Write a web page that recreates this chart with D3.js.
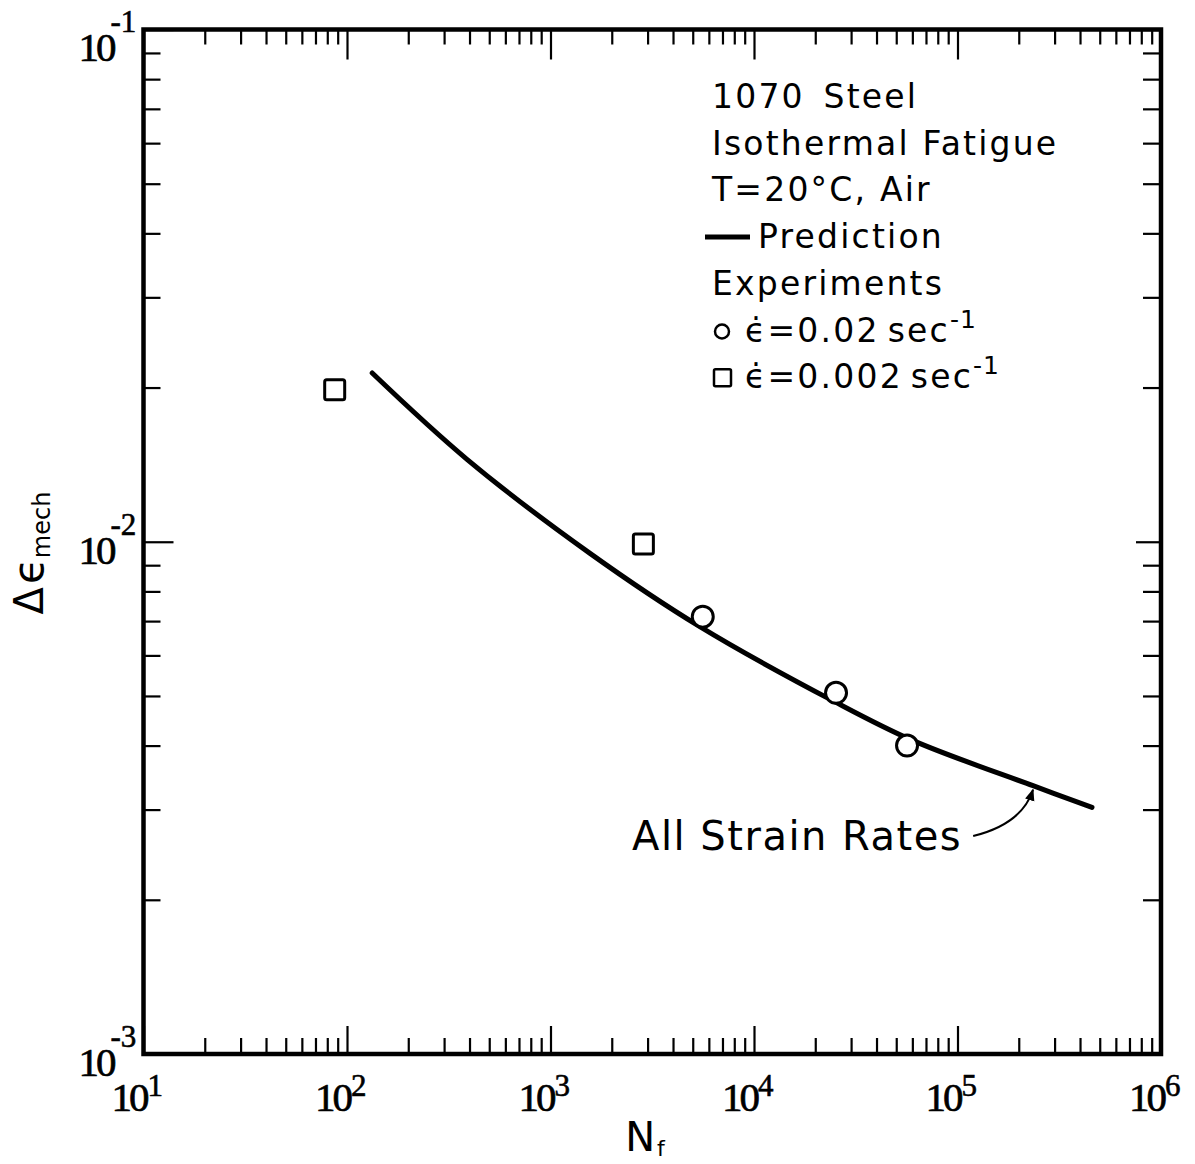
<!DOCTYPE html>
<head>
<meta charset="utf-8">
<script src="https://d3js.org/d3.v7.min.js"></script>
<style>
body{ margin:0; background:#fff; }
text{ font-family: "DejaVu Sans", sans-serif; fill:#000; }
text.tickLabel{ font-family: "Liberation Serif", serif; font-size:41px; letter-spacing:-3px; stroke:#000; stroke-width:0.7; }
text.tickSup{ font-family: "Liberation Serif", serif; font-size:31px; stroke:#000; stroke-width:0.6; }
text.legend{ font-size:33px; letter-spacing:2.2px; }
text.note{ font-size:40px; letter-spacing:1.5px; }
.axis path.domain{ display:none; }
.axis .tick line{ stroke:#000; stroke-width:2.2; }
</style>
<title>1070 Steel Isothermal Fatigue</title>
</head>
<body>
<script>
const width = 1195, height = 1164;
const margin = {top: 29.5, right: 34, bottom: 110, left: 143.5};

// axis decades
const xExponents = [1, 2, 3, 4, 5, 6];
const yExponents = [-3, -2, -1];

// prediction curve, all strain rates
const predN      = [133, 390, 1570, 5445, 24490, 60530, 235000, 458000];
const predStrain = [0.02135, 0.01447, 0.00948, 0.00682, 0.00489, 0.00409, 0.00334, 0.00303];

// experiments
const fastN      = [5600, 25300, 56500];     // 0.02 /sec
const fastStrain = [0.00714, 0.00507, 0.00400];
const slowN      = [87, 2860];               // 0.002 /sec
const slowStrain = [0.0198, 0.0099];

// annotation "All Strain Rates": text end, arrow start, control, tip
const noteN      = [105400, 119400, 207500, 235000];
const noteStrain = [0.00250, 0.002664, 0.002812, 0.00328];

const svg = d3.select('body').append('svg')
   .attr('width', width)
   .attr('height', height);

const x = d3.scaleLog()
   .domain([1e1, 1e6])
   .range([margin.left, width - margin.right]);

const y = d3.scaleLog()
   .domain([1e-3, 1e-1])
   .range([height - margin.bottom, margin.top]);

const isMajor = v => Math.abs(Math.log10(v) - Math.round(Math.log10(v))) < 1e-9;
const xMinor = x.ticks().filter(v => !isMajor(v));
const xMajor = x.ticks().filter(isMajor);
const yMinor = y.ticks().filter(v => !isMajor(v));
const yMajor = y.ticks().filter(isMajor);

function addTicks(axisFn, scale, values, size, tx, ty){
   svg.append('g')
      .attr('class', 'axis')
      .attr('transform', `translate(${tx},${ty})`)
      .call(axisFn(scale).tickValues(values).tickSize(size).tickSizeOuter(0).tickFormat(''));
}

const x0 = x.range()[0], x1 = x.range()[1];
const yB = y.range()[0], yT = y.range()[1];

addTicks(d3.axisBottom, x, xMinor, -16, 0, yB);
addTicks(d3.axisBottom, x, xMajor, -28, 0, yB);
addTicks(d3.axisTop,    x, xMinor, -15, 0, yT);
addTicks(d3.axisTop,    x, xMajor, -30, 0, yT);
addTicks(d3.axisLeft,   y, yMinor, -17, x0, 0);
addTicks(d3.axisLeft,   y, yMajor, -30, x0, 0);
addTicks(d3.axisRight,  y, yMinor, -18, x1, 0);
addTicks(d3.axisRight,  y, yMajor, -25, x1, 0);

// frame
svg.append('rect')
   .attr('x', x0).attr('y', yT)
   .attr('width', x1 - x0).attr('height', yB - yT)
   .attr('fill', 'none')
   .attr('stroke', '#000')
   .attr('stroke-width', 4.5);

// x tick labels
xExponents.forEach(e => {
   const px = x(Math.pow(10, e));
   svg.append('text').attr('class', 'tickLabel')
      .attr('x', px + 3).attr('y', yB + 57)
      .style('text-anchor', 'end')
      .text('10');
   svg.append('text').attr('class', 'tickSup')
      .attr('x', px + 4).attr('y', yB + 42)
      .text(e);
});

// y tick labels
yExponents.forEach(e => {
   const py = Math.max(y(Math.pow(10, e)) + 22, yT + 31);
   svg.append('text').attr('class', 'tickLabel')
      .attr('x', x0 - 30).attr('y', py)
      .style('text-anchor', 'end')
      .text('10');
   svg.append('text').attr('class', 'tickSup')
      .attr('x', x0 - 33).attr('y', py - 29)
      .text('-' + Math.abs(e));
});

// axis titles
const xTitle = svg.append('text')
   .attr('x', 645).attr('y', yB + 97)
   .style('text-anchor', 'middle');
xTitle.append('tspan').style('font-size', '40px').text('N');
xTitle.append('tspan').style('font-size', '22px').attr('dy', 5).attr('dx', 2).text('f');

const yTitle = svg.append('text')
   .attr('transform', `translate(43,553) rotate(-90)`)
   .style('text-anchor', 'middle');
yTitle.append('tspan').style('font-size', '40px').text('\u0394');
yTitle.append('tspan').style('font-size', '42px').attr('dx', 3).text('\u03f5');
yTitle.append('tspan').style('font-size', '24px').attr('dy', 7).text('mech');

// prediction curve
const line = d3.line()
   .x(d => x(d[0]))
   .y(d => y(d[1]))
   .curve(d3.curveCatmullRom.alpha(0.5));

svg.append('path')
   .datum(predN.map((n, i) => [n, predStrain[i]]))
   .attr('d', line)
   .attr('fill', 'none')
   .attr('stroke', '#000')
   .attr('stroke-width', 5)
   .attr('stroke-linecap', 'round');

// experiments
svg.selectAll('circle.fast')
   .data(fastN.map((n, i) => [n, fastStrain[i]]))
   .enter().append('circle')
   .attr('class', 'fast')
   .attr('cx', d => x(d[0]))
   .attr('cy', d => y(d[1]))
   .attr('r', 10.5)
   .attr('fill', '#fff')
   .attr('stroke', '#000')
   .attr('stroke-width', 3);

const sq = 20;
svg.selectAll('rect.slow')
   .data(slowN.map((n, i) => [n, slowStrain[i]]))
   .enter().append('rect')
   .attr('class', 'slow')
   .attr('x', d => x(d[0]) - sq / 2)
   .attr('y', d => y(d[1]) - sq / 2)
   .attr('width', sq).attr('height', sq)
   .attr('rx', 2)
   .attr('fill', '#fff')
   .attr('stroke', '#000')
   .attr('stroke-width', 3);

// annotation
svg.append('defs').append('marker')
   .attr('id', 'arrow')
   .attr('viewBox', '0 0 10 10')
   .attr('refX', 9).attr('refY', 5)
   .attr('markerWidth', 6).attr('markerHeight', 6)
   .attr('markerUnits', 'strokeWidth')
   .attr('orient', 'auto')
   .append('path')
   .attr('d', 'M0,1 L10,5 L0,9 Z')
   .attr('fill', '#000');

svg.append('text').attr('class', 'note')
   .attr('x', x(noteN[0])).attr('y', y(noteStrain[0]))
   .style('text-anchor', 'end')
   .text('All Strain Rates');

svg.append('path')
   .attr('d', `M${x(noteN[1])},${y(noteStrain[1])} Q${x(noteN[2])},${y(noteStrain[2])} ${x(noteN[3])},${y(noteStrain[3])}`)
   .attr('fill', 'none')
   .attr('stroke', '#000')
   .attr('stroke-width', 2)
   .attr('marker-end', 'url(#arrow)');

// legend block
const lx = 712, ly = 108, lh = 46.7;
const legendTitle = ['1070\u2002Steel', 'Isothermal Fatigue', 'T=20\u00b0C, Air'];
legendTitle.forEach((t, i) => {
   svg.append('text').attr('class', 'legend')
      .attr('x', lx).attr('y', ly + i * lh)
      .text(t);
});

svg.append('line')
   .attr('x1', lx - 7).attr('x2', lx + 38)
   .attr('y1', ly + 3 * lh - 11).attr('y2', ly + 3 * lh - 11)
   .attr('stroke', '#000').attr('stroke-width', 5);
svg.append('text').attr('class', 'legend')
   .attr('x', lx + 46).attr('y', ly + 3 * lh)
   .text('Prediction');

svg.append('text').attr('class', 'legend')
   .attr('x', lx).attr('y', ly + 4 * lh)
   .text('Experiments');

const rateLabels = ['0.02', '0.002'];
rateLabels.forEach((r, i) => {
   const by = ly + (5 + i) * lh;
   if (i === 0) {
      svg.append('circle')
         .attr('cx', lx + 10).attr('cy', by - 10)
         .attr('r', 7)
         .attr('fill', '#fff').attr('stroke', '#000').attr('stroke-width', 2.5);
   } else {
      svg.append('rect')
         .attr('x', lx + 2).attr('y', by - 19)
         .attr('width', 17).attr('height', 17)
         .attr('rx', 1.5)
         .attr('fill', '#fff').attr('stroke', '#000').attr('stroke-width', 2.5);
   }
   const t = svg.append('text').attr('class', 'legend')
      .attr('x', lx + 33).attr('y', by);
   t.append('tspan').text('\u03f5\u0307');
   t.append('tspan').attr('dx', 0).text('=' + r);
   t.append('tspan').attr('dx', 8).text('sec');
   t.append('tspan').attr('dy', -14).style('font-size', '25px').style('letter-spacing', '1px').text('-1');
});
</script>
</body>
